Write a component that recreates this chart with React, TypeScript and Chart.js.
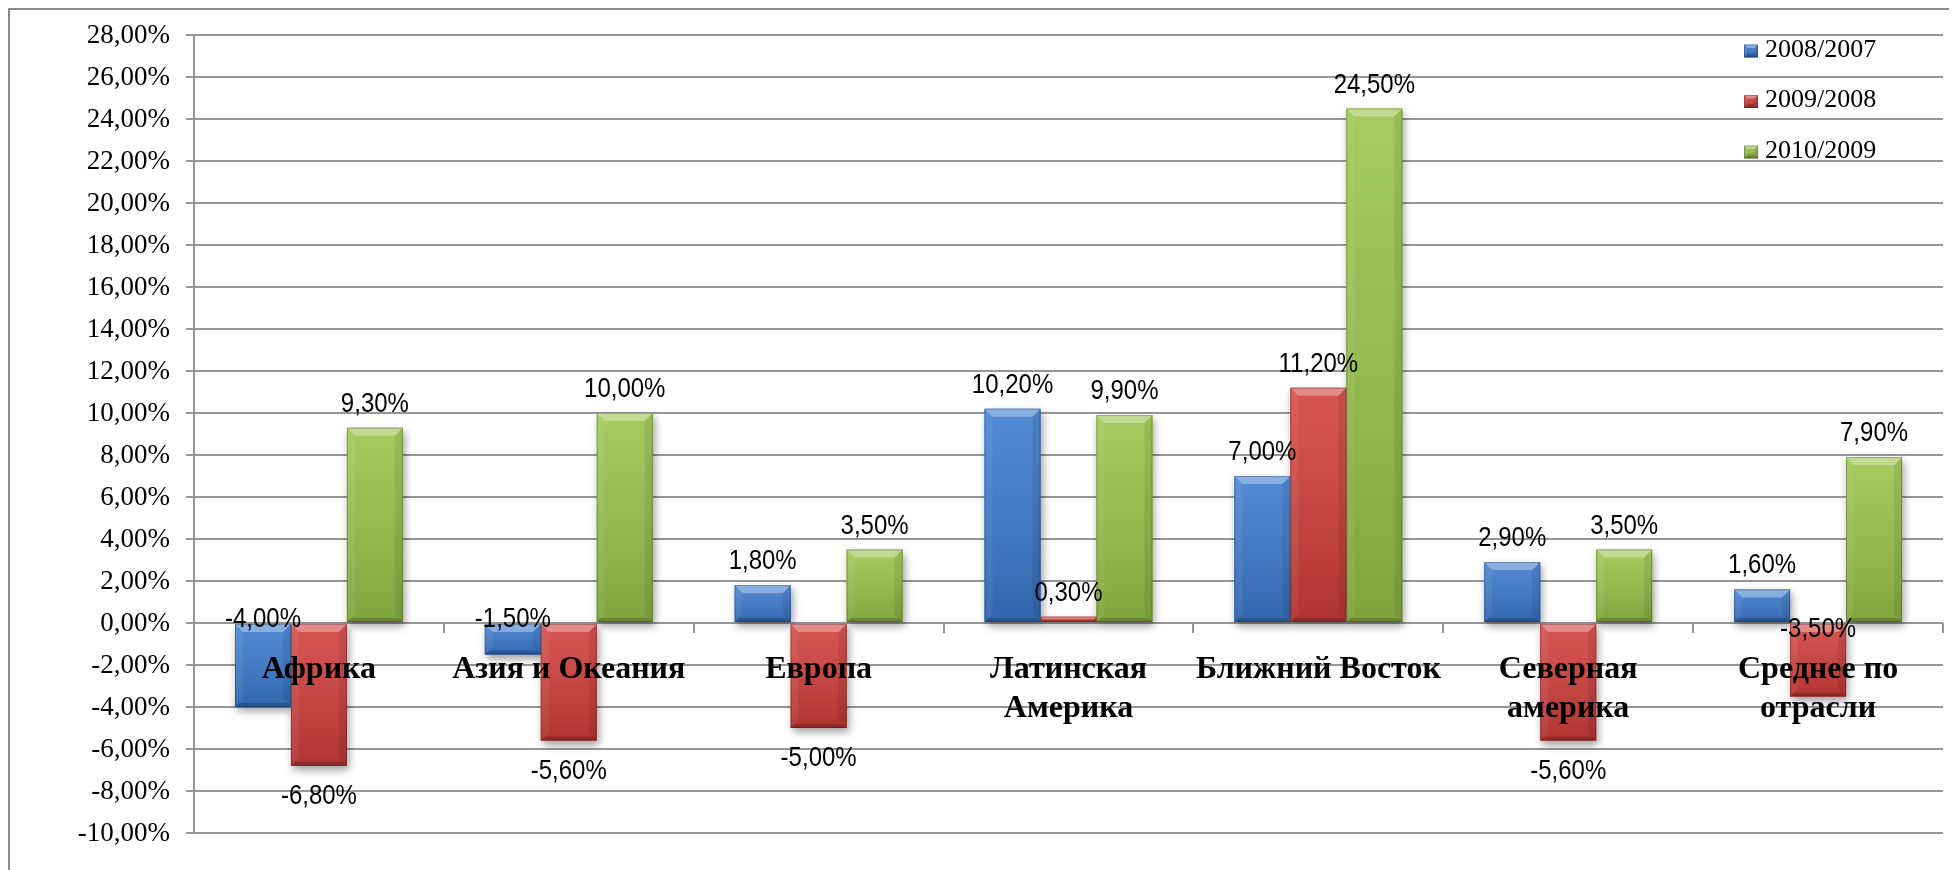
import React, { useEffect, useRef } from 'react';
import { Chart, registerables } from 'chart.js';

Chart.register(...registerables);

// Regions (multi-line names are split into rows)
const regions: (string | string[])[] = [
  'Африка',
  'Азия и Океания',
  'Европа',
  ['Латинская', 'Америка'],
  'Ближний Восток',
  ['Северная', 'америка'],
  ['Среднее по', 'отрасли'],
];

const seriesNames = ['2008/2007', '2009/2008', '2010/2009'];

// Year-over-year change, %
const growth2008 = [-4.0, -1.5, 1.8, 10.2, 7.0, 2.9, 1.6];
const growth2009 = [-6.8, -5.6, -5.0, 0.3, 11.2, -5.6, -3.5];
const growth2010 = [9.3, 10.0, 3.5, 9.9, 24.5, 3.5, 7.9];

const yMin = -10;
const yMax = 28;
const yStep = 2;

// Styling
const seriesColors = ['#3b7ace', '#d13e3a', '#98c448'];
const gridColor = '#969696';
const serif = '"Liberation Serif", "Times New Roman", serif';
const sans = '"Liberation Sans", Arial, sans-serif';

// Where each value label sits: 'end' beyond the bar end,
// 'over' just above the zero line, 'under' just below it.
const labelSpots = [
  ['over', 'over', 'end', 'end', 'end', 'end', 'end'],
  ['end', 'end', 'end', 'end', 'end', 'end', 'under'],
  ['end', 'end', 'end', 'end', 'end', 'end', 'end'],
];

const pct = (v: number) => v.toFixed(2).replace('.', ',') + '%';

function barRect(el: any) {
  const { x, y, base, width } = el.getProps(['x', 'y', 'base', 'width'], true);
  const left = x - width / 2;
  const top = Math.min(y, base);
  const bottom = Math.max(y, base);
  return { left, top, width, height: bottom - top, right: left + width, bottom };
}

// Soft drop shadow under every bar
const barShadow = {
  id: 'barShadow',
  beforeDatasetsDraw(chart: any) {
    const ctx = chart.ctx;
    ctx.save();
    ctx.shadowColor = 'rgba(0,0,0,0.38)';
    ctx.shadowBlur = 8;
    ctx.shadowOffsetX = 2;
    ctx.shadowOffsetY = 4;
    chart.data.datasets.forEach((ds: any, i: number) => {
      const meta = chart.getDatasetMeta(i);
      meta.data.forEach((el: any) => {
        const r = barRect(el);
        if (r.height < 0.5) return;
        ctx.fillStyle = ds.backgroundColor;
        ctx.fillRect(r.left, r.top, r.width, r.height);
      });
    });
    ctx.restore();
  },
};

function bevel(ctx: CanvasRenderingContext2D, left: number, top: number, w: number, h: number) {
  const right = left + w;
  const bottom = top + h;
  const b = Math.min(8, h / 2, w / 4);
  // vertical shading
  const g = ctx.createLinearGradient(0, top, 0, bottom);
  g.addColorStop(0, 'rgba(255,255,255,0.12)');
  g.addColorStop(1, 'rgba(0,0,0,0.16)');
  ctx.fillStyle = g;
  ctx.fillRect(left, top, w, h);
  // top face
  ctx.beginPath();
  ctx.moveTo(left, top);
  ctx.lineTo(right, top);
  ctx.lineTo(right - b, top + b);
  ctx.lineTo(left + b, top + b);
  ctx.closePath();
  ctx.fillStyle = 'rgba(255,255,255,0.32)';
  ctx.fill();
  // left face
  ctx.beginPath();
  ctx.moveTo(left, top);
  ctx.lineTo(left + b, top + b);
  ctx.lineTo(left + b, bottom - b);
  ctx.lineTo(left, bottom);
  ctx.closePath();
  ctx.fillStyle = 'rgba(255,255,255,0.06)';
  ctx.fill();
  // right face
  ctx.beginPath();
  ctx.moveTo(right, top);
  ctx.lineTo(right - b, top + b);
  ctx.lineTo(right - b, bottom - b);
  ctx.lineTo(right, bottom);
  ctx.closePath();
  ctx.fillStyle = 'rgba(0,0,0,0.08)';
  ctx.fill();
  // bottom face
  const bb = Math.min(4, h / 3);
  ctx.beginPath();
  ctx.moveTo(left, bottom);
  ctx.lineTo(right, bottom);
  ctx.lineTo(right - bb, bottom - bb);
  ctx.lineTo(left + bb, bottom - bb);
  ctx.closePath();
  ctx.fillStyle = 'rgba(0,0,0,0.18)';
  ctx.fill();
  // edge
  ctx.strokeStyle = 'rgba(0,0,0,0.22)';
  ctx.lineWidth = 1;
  ctx.strokeRect(left + 0.5, top + 0.5, w - 1, Math.max(h - 1, 0));
}

const barBevel = {
  id: 'barBevel',
  afterDatasetsDraw(chart: any) {
    const ctx = chart.ctx;
    ctx.save();
    chart.data.datasets.forEach((_ds: any, i: number) => {
      const meta = chart.getDatasetMeta(i);
      meta.data.forEach((el: any) => {
        const r = barRect(el);
        if (r.height < 0.5) return;
        bevel(ctx, r.left, r.top, r.width, r.height);
      });
    });
    ctx.restore();
  },
};

// Percent labels of the value axis, right-aligned before the tick marks
const valueAxisLabels = {
  id: 'valueAxisLabels',
  afterDraw(chart: any) {
    const ctx = chart.ctx;
    const scale = chart.scales.y;
    const x = scale.right - 8 - 16;
    ctx.save();
    ctx.font = `27px ${serif}`;
    ctx.fillStyle = '#000';
    ctx.textAlign = 'right';
    ctx.textBaseline = 'middle';
    scale.ticks.forEach((t: any) => {
      ctx.fillText(pct(t.value), x, scale.getPixelForValue(t.value) + 1);
    });
    ctx.restore();
  },
};

// Value labels above/below the bars (slightly tall lettering)
const valueLabels = {
  id: 'valueLabels',
  afterDraw(chart: any) {
    const ctx = chart.ctx;
    const zeroY = chart.scales.y.getPixelForValue(0);
    ctx.save();
    ctx.font = `24px ${sans}`;
    ctx.fillStyle = '#000';
    ctx.textAlign = 'center';
    ctx.textBaseline = 'alphabetic';
    chart.data.datasets.forEach((ds: any, i: number) => {
      const meta = chart.getDatasetMeta(i);
      meta.data.forEach((el: any, j: number) => {
        const v = ds.data[j] as number;
        const spot = labelSpots[i][j];
        let y: number;
        if (spot === 'over') y = zeroY + 4;
        else if (spot === 'under') y = zeroY + 14;
        else if (v >= 0) y = el.y - 16;
        else y = el.y + 38;
        ctx.save();
        ctx.translate(el.x, y);
        ctx.scale(1, 1.16);
        ctx.fillText(pct(v), 0, 0);
        ctx.restore();
      });
    });
    ctx.restore();
  },
};

// Legend stacked in the top-right corner, over the grid
const cornerLegend = {
  id: 'cornerLegend',
  afterDraw(chart: any) {
    const ctx = chart.ctx;
    const markerX = 1734;
    const textX = 1755;
    const firstY = 40;
    const rowGap = 50.5;
    ctx.save();
    ctx.font = `26px ${serif}`;
    ctx.textAlign = 'left';
    ctx.textBaseline = 'middle';
    chart.data.datasets.forEach((ds: any, i: number) => {
      const cy = firstY + i * rowGap;
      const s = 13;
      const top = cy - s / 2 + 1;
      ctx.fillStyle = ds.backgroundColor;
      ctx.fillRect(markerX, top, s + 1, s);
      bevel(ctx, markerX, top, s + 1, s);
      ctx.fillStyle = '#000';
      ctx.fillText(ds.label, textX, cy);
    });
    ctx.restore();
  },
};

export default function App() {
  const canvasRef = useRef<HTMLCanvasElement | null>(null);

  useEffect(() => {
    document.documentElement.style.overflow = 'hidden';
    const canvas = canvasRef.current;
    if (!canvas) return;
    const series = [growth2008, growth2009, growth2010];
    const chart = new Chart(canvas, {
      type: 'bar',
      data: {
        labels: regions,
        datasets: series.map((values, i) => ({
          label: seriesNames[i],
          data: values,
          backgroundColor: seriesColors[i],
          borderWidth: 0,
          categoryPercentage: 0.672,
          barPercentage: 1,
        })),
      },
      options: {
        responsive: false,
        animation: false,
        devicePixelRatio: 1,
        layout: { padding: { top: 25, bottom: 53, right: 9, left: 0 } },
        plugins: {
          legend: { display: false },
          tooltip: { enabled: false },
        },
        scales: {
          x: {
            position: { y: 0 } as any,
            offset: true,
            grid: {
              display: true,
              drawOnChartArea: false,
              drawTicks: true,
              tickLength: 10,
              color: gridColor,
              lineWidth: 2,
              offset: true,
            },
            border: { display: false },
            ticks: {
              z: 1,
              autoSkip: false,
              maxRotation: 0,
              minRotation: 0,
              padding: 18,
              color: '#000',
              font: { family: serif, size: 32, weight: 'bold', lineHeight: 1.2 },
            },
          },
          y: {
            min: yMin,
            max: yMax,
            afterFit(scale: any) {
              scale.width = 184;
            },
            grid: {
              color: gridColor,
              lineWidth: 2,
              drawTicks: true,
              tickLength: 8,
            },
            border: { display: true, color: gridColor, width: 2 },
            ticks: {
              stepSize: yStep,
              display: false,
            },
          },
        },
      },
      plugins: [barShadow, barBevel, valueAxisLabels, valueLabels, cornerLegend],
    });
    return () => chart.destroy();
  }, []);

  return (
    <div
      style={{
        width: 1946,
        height: 880,
        border: '2px solid #8c8c8c',
        boxSizing: 'border-box',
        background: '#fff',
      }}
    >
      <canvas
        ref={canvasRef}
        width={1942}
        height={876}
        style={{ display: 'block', width: 1942, height: 876 }}
      />
    </div>
  );
}
